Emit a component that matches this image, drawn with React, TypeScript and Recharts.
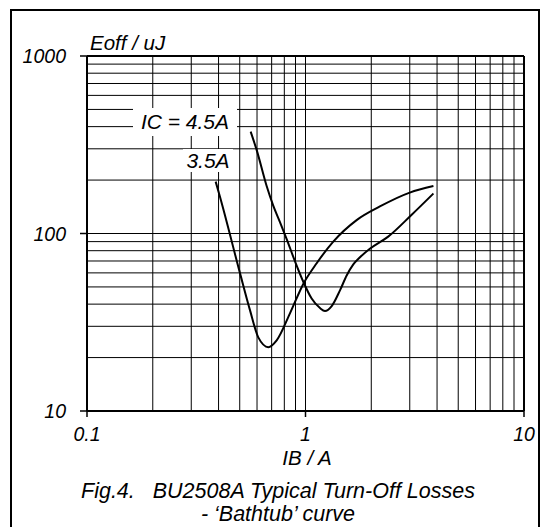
import { LineChart, Line, XAxis, YAxis, CartesianGrid, ReferenceLine } from "recharts";

// IB (A) vs Eoff (uJ)
const ib45 = [0.561, 0.598, 0.664, 0.711, 0.764, 0.82, 0.89, 0.977, 1.067, 1.165, 1.228, 1.318, 1.44, 1.543, 1.655, 1.766, 1.97, 2.39, 3.07, 3.85];
const eoff45 = [375, 295, 185, 144, 116, 93, 71, 53.5, 43, 38, 36.6, 39, 48, 58, 67, 73, 82, 96, 128, 168];

const ib35 = [0.388, 0.406, 0.501, 0.557, 0.608, 0.676, 0.738, 0.849, 0.977, 1.125, 1.34, 1.714, 2.19, 3.0, 3.85];
const eoff35 = [196, 161, 60, 37, 26, 22.9, 25, 35.5, 52, 68, 90, 119, 142, 170, 185];

const xTicks = [0.1, 0.2, 0.3, 0.4, 0.5, 0.6, 0.7, 0.8, 0.9, 1, 2, 3, 4, 5, 6, 7, 8, 9, 10];
const yTicks = [10, 20, 30, 40, 50, 60, 70, 80, 90, 100, 200, 300, 400, 500, 600, 700, 800, 900, 1000];
const xLabels = ["0.1", "1", "10"];
const yLabels = ["10", "100", "1000"];

const series45 = ib45.map((x, i) => ({ x, y: eoff45[i] }));
const series35 = ib35.map((x, i) => ({ x, y: eoff35[i] }));

const font = "'Liberation Sans', Arial, sans-serif";

const XTick = (props: any) => {
  const { x, y, payload } = props;
  const label = String(payload.value);
  if (!xLabels.includes(label)) return null;
  return (
    <g>
      <line x1={x} x2={x} y1={y} y2={y + 6} stroke="#000" strokeWidth={1.5} />
      <text x={x} y={y + 30} textAnchor="middle" fontSize={19.5} fontStyle="italic" fontFamily={font} fill="#000">
        {label}
      </text>
    </g>
  );
};

const YTick = (props: any) => {
  const { x, y, payload } = props;
  const label = String(payload.value);
  if (!yLabels.includes(label)) return null;
  return (
    <g>
      <line x1={x - 7} x2={x} y1={y} y2={y} stroke="#000" strokeWidth={1.5} />
      <text x={x - 21} y={y + 7} textAnchor="end" fontSize={19.5} fontStyle="italic" fontFamily={font} fill="#000">
        {label}
      </text>
    </g>
  );
};

const txt: React.CSSProperties = {
  position: "absolute",
  fontFamily: font,
  fontStyle: "italic",
  fontSize: 20.5,
  color: "#000",
  whiteSpace: "pre",
  lineHeight: "22px",
};

export default function App() {
  return (
    <div style={{ position: "fixed", left: 0, top: 0, width: 547, height: 527, overflow: "hidden", background: "#fff" }}>
      <div style={{ position: "absolute", left: 10, top: 9, width: 530, height: 600, border: "2px solid #000", boxSizing: "border-box" }} />
      <div style={{ position: "absolute", left: 0, top: 0 }}>
        <LineChart width={547} height={527} margin={{ top: 56, right: 23, left: 0, bottom: 86 }}>
          <CartesianGrid stroke="#000" strokeWidth={1} />
          <XAxis
            type="number"
            dataKey="x"
            scale="log"
            domain={[0.1, 10]}
            ticks={xTicks}
            allowDataOverflow
            height={30}
            tickLine={false}
            tickSize={0}
            tickMargin={0}
            axisLine={{ stroke: "#000", strokeWidth: 2 }}
            tick={<XTick />}
            interval={0}
          />
          <YAxis
            type="number"
            dataKey="y"
            scale="log"
            domain={[10, 1000]}
            ticks={yTicks}
            allowDataOverflow
            width={87}
            tickLine={false}
            tickSize={0}
            tickMargin={0}
            axisLine={{ stroke: "#000", strokeWidth: 2 }}
            tick={<YTick />}
            interval={0}
          />
          <ReferenceLine y={1000} stroke="#000" strokeWidth={2} />
          <ReferenceLine x={10} stroke="#000" strokeWidth={2} />
          <Line data={series45} dataKey="y" type="monotone" stroke="#000" strokeWidth={2} dot={false} isAnimationActive={false} />
          <Line data={series35} dataKey="y" type="monotone" stroke="#000" strokeWidth={2} dot={false} isAnimationActive={false} />
        </LineChart>
      </div>
      <div style={{ ...txt, left: 90, top: 32 }}>Eoff / uJ</div>
      <div style={{ ...txt, left: 133, top: 108, width: 104, height: 28, background: "#fff", textAlign: "center", lineHeight: "28px", fontSize: 21 }}>IC = 4.5A</div>
      <div style={{ ...txt, left: 183, top: 149, width: 50, height: 23, background: "#fff", textAlign: "center", lineHeight: "23px", fontSize: 21 }}>3.5A</div>
      <div style={{ ...txt, left: 207, top: 447, width: 200, textAlign: "center" }}>IB / A</div>
      <div style={{ ...txt, left: 28, top: 480, width: 500, textAlign: "center", lineHeight: "22px", fontSize: 21.5 }}>
        {"Fig.4.   BU2508A Typical Turn-Off Losses"}
      </div>
      <div style={{ ...txt, left: 28, top: 502, width: 500, textAlign: "center", lineHeight: "24px", fontSize: 21.5 }}>
        {"- \u2018Bathtub\u2019 curve"}
      </div>
    </div>
  );
}
